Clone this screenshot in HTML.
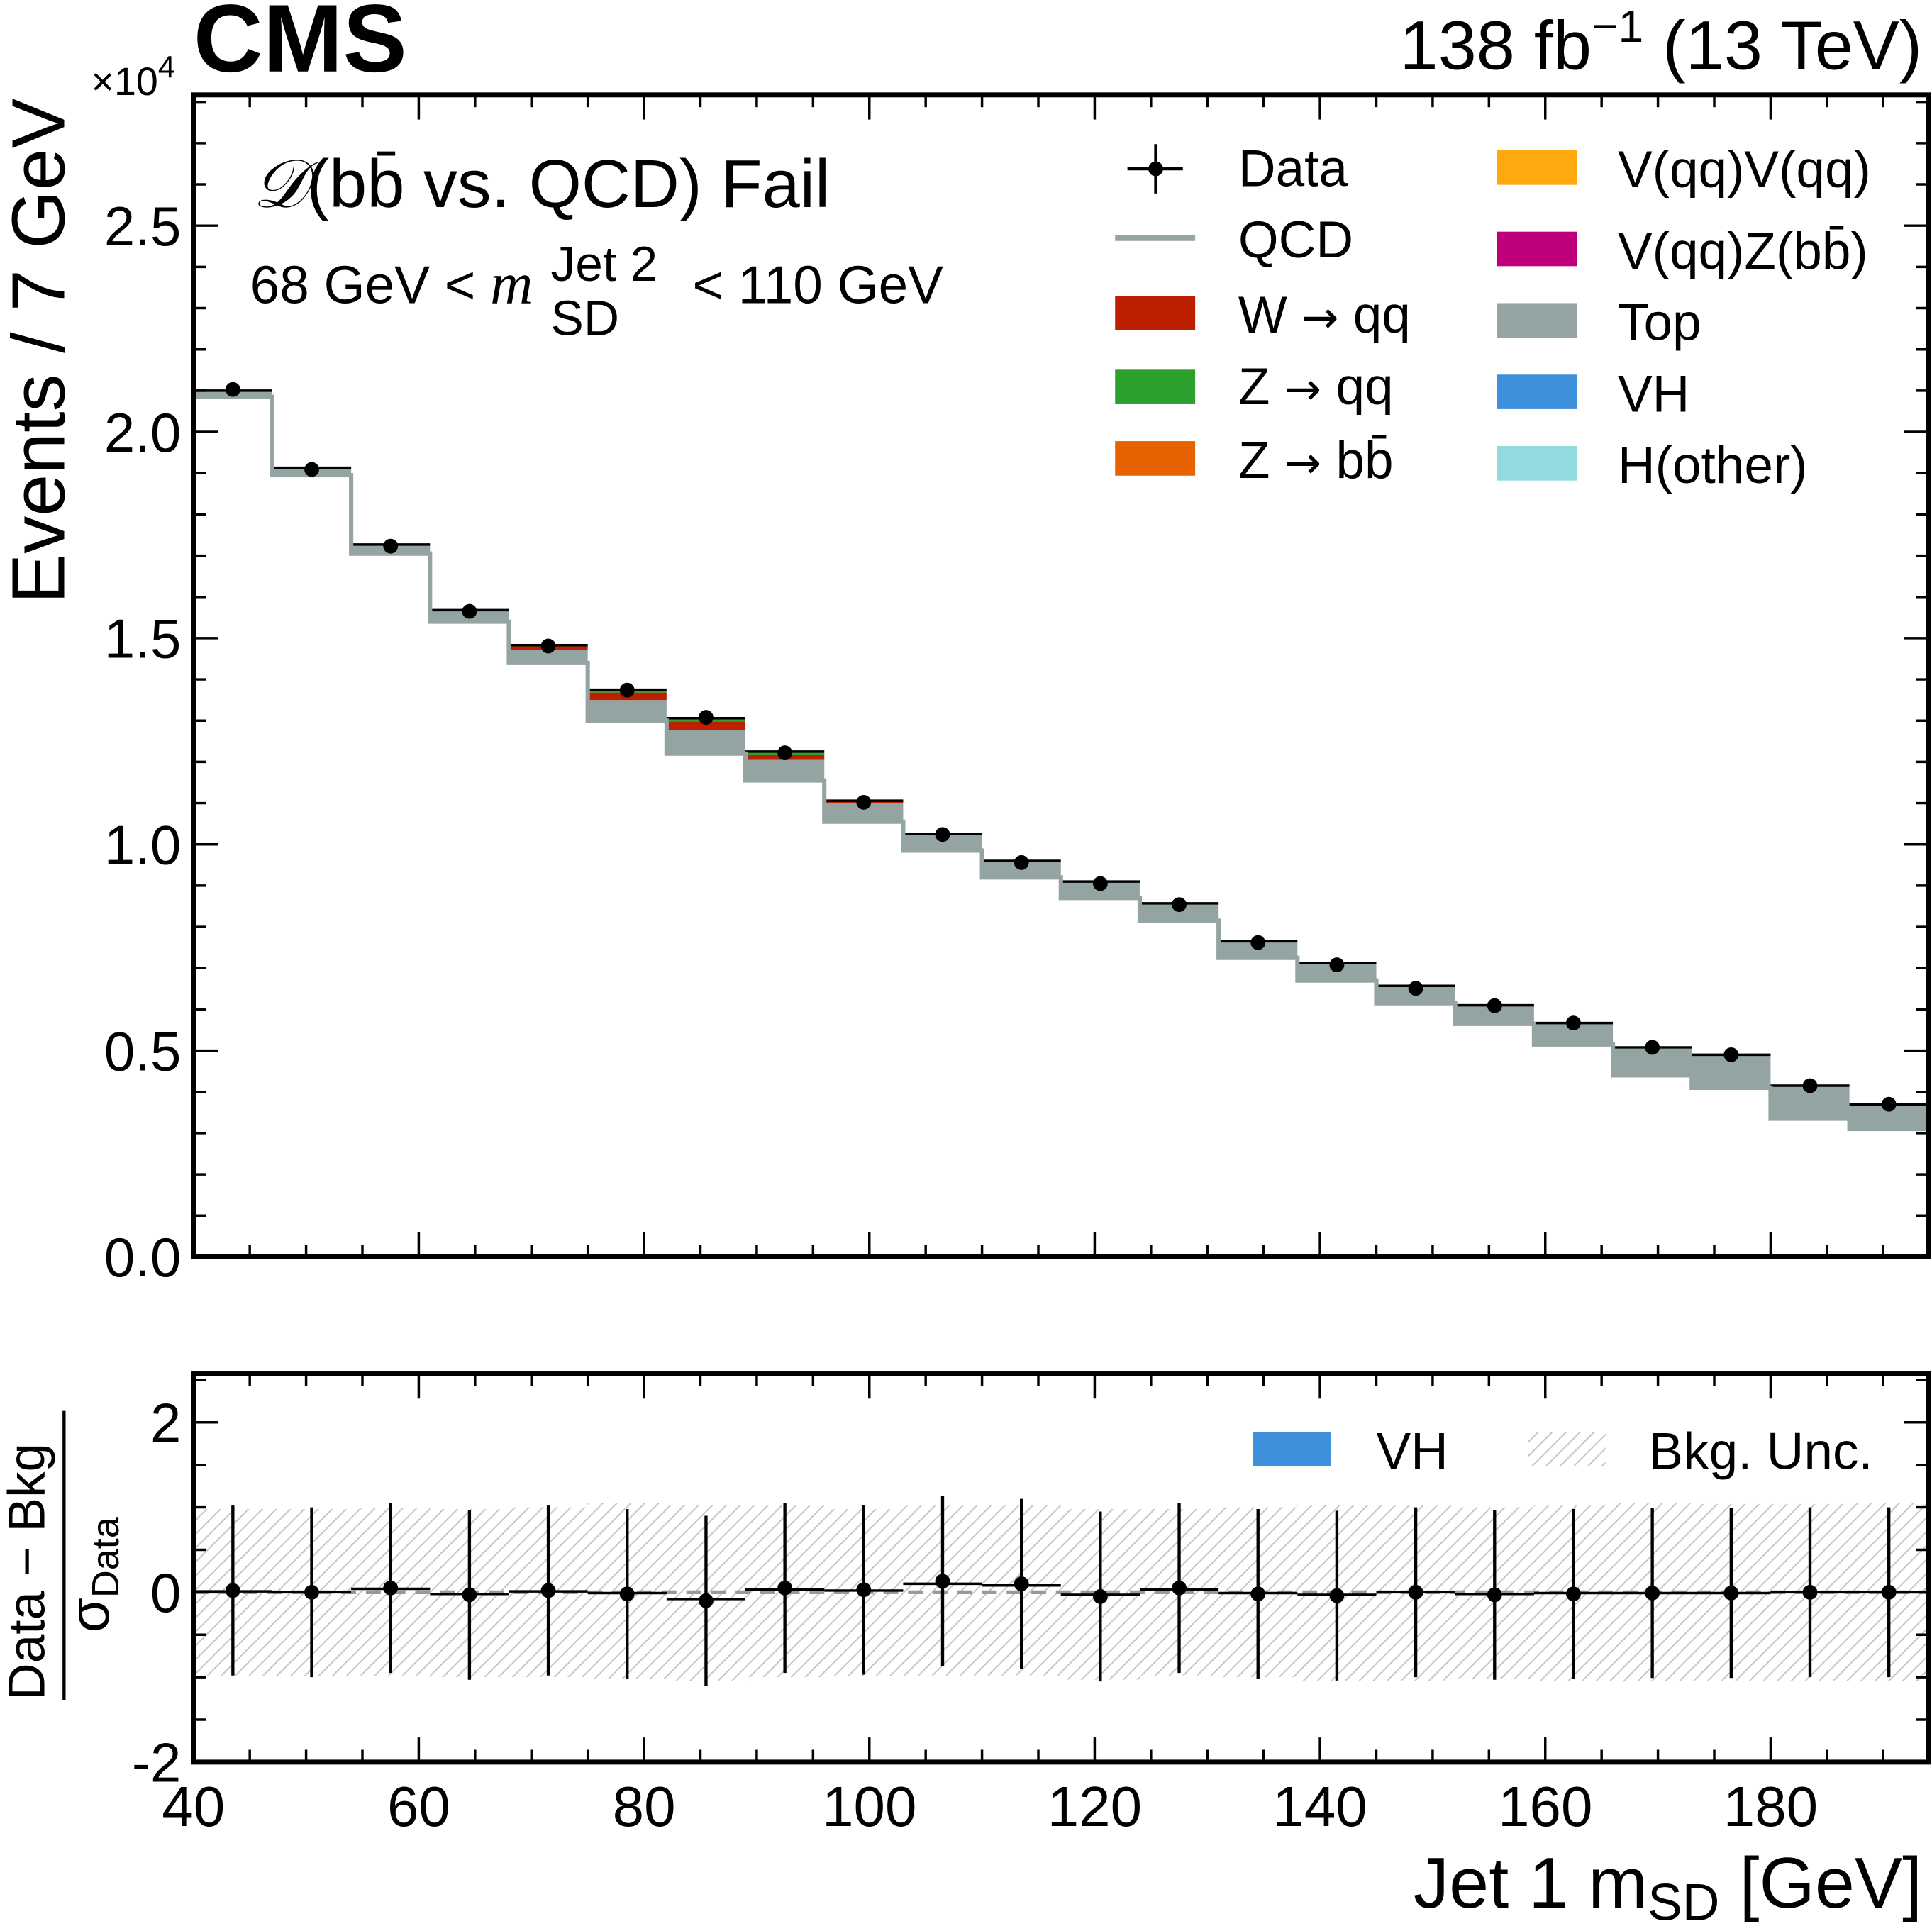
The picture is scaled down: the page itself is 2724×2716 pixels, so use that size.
<!DOCTYPE html>
<html><head><meta charset="utf-8"><style>
html,body{margin:0;padding:0;background:#fff}
svg{display:block}
text{font-family:"Liberation Sans",sans-serif;fill:#000}
</style></head><body>
<svg id="chart" width="2724" height="2716" viewBox="0 0 1568 1563" preserveAspectRatio="none" xmlns="http://www.w3.org/2000/svg">
<defs>
<pattern id="hatch" patternUnits="userSpaceOnUse" width="8" height="8" patternTransform="rotate(45)">
<rect width="8" height="8" fill="#fff"/><line x1="0" y1="0" x2="0" y2="8" stroke="#c4c4c4" stroke-width="2.2"/>
</pattern>
</defs>
<g id="main"></g>
<g id="ratio"></g>
<text x="157" y="58" font-size="78" font-weight="bold">CMS</text>
<text x="1560" y="56" font-size="56" text-anchor="end">138 fb<tspan dy="-22" font-size="37">−1</tspan><tspan dy="22"> (13 TeV)</tspan></text>
<text x="74" y="77" font-size="32">×10<tspan dy="-14" font-size="25">4</tspan></text>
<text transform="translate(52,490) rotate(-90)" font-size="61">Events / 7 GeV</text>
<text x="205" y="168" font-size="55"><tspan font-family="Liberation Serif" font-style="italic">𝒟</tspan>(bb̄ vs. QCD) Fail</text>
<g font-size="43">
<text x="203" y="246">68 GeV &lt; <tspan font-family="Liberation Serif" font-style="italic" font-size="48">m</tspan></text>
<text x="447" y="228" font-size="40">Jet 2</text>
<text x="447" y="272" font-size="40">SD</text>
<text x="562" y="246">&lt; 110 GeV</text>
</g>
<g font-size="42">
<g><line x1="915" y1="137" x2="960" y2="137" stroke="#000" stroke-width="2.5"/><line x1="938" y1="117" x2="938" y2="157" stroke="#000" stroke-width="2.5"/><circle cx="938" cy="137" r="6"/><text x="1005" y="151">Data</text></g>
<g><line x1="905" y1="193" x2="970" y2="193" stroke="#94a4a2" stroke-width="5"/><text x="1005" y="209">QCD</text></g>
<g><rect x="905" y="240" width="65" height="28" fill="#bd1f01"/><text x="1005" y="270">W <tspan font-family="DejaVu Sans" font-size="36">→</tspan> qq</text></g>
<g><rect x="905" y="300" width="65" height="28" fill="#2ca02c"/><text x="1005" y="328">Z <tspan font-family="DejaVu Sans" font-size="36">→</tspan> qq</text></g>
<g><rect x="905" y="358" width="65" height="28" fill="#e76300"/><text x="1005" y="388">Z <tspan font-family="DejaVu Sans" font-size="36">→</tspan> bb̄</text></g>
<g><rect x="1215" y="122" width="65" height="28" fill="#ffa90e"/><text x="1313" y="152">V(qq)V(qq)</text></g>
<g><rect x="1215" y="188" width="65" height="28" fill="#c0007a"/><text x="1313" y="218">V(qq)Z(bb̄)</text></g>
<g><rect x="1215" y="246" width="65" height="28" fill="#94a4a2"/><text x="1313" y="276">Top</text></g>
<g><rect x="1215" y="304" width="65" height="28" fill="#3f90da"/><text x="1313" y="334">VH</text></g>
<g><rect x="1215" y="362" width="65" height="28" fill="#92dadd"/><text x="1313" y="392">H(other)</text></g>
</g>
<g font-size="42">
<g><rect x="1017" y="1162" width="63" height="28" fill="#3f90da"/><text x="1117" y="1192">VH</text></g>
<g><rect x="1240" y="1162" width="63" height="28" fill="url(#hatch)"/><text x="1338" y="1192">Bkg. Unc.</text></g>
</g>
<g>
<text transform="translate(36,1380) rotate(-90)" font-size="42">Data − Bkg</text>
<line x1="52" y1="1145" x2="52" y2="1380" stroke="#000" stroke-width="2.5"/>
<text transform="translate(88,1325) rotate(-90)" font-size="46">σ<tspan font-size="31" dy="8">Data</tspan></text>
</g>
<text x="1560" y="1548" font-size="58" text-anchor="end">Jet 1 m<tspan font-size="42" dy="10">SD</tspan><tspan dy="-10"> [GeV]</tspan></text>
</svg>
<script>
const binEdges = [40,47,54,61,68,75,82,89,96,103,110,117,124,131,138,145,152,159,166,173,180,187,194];
const dataVals = [2.103,1.909,1.723,1.565,1.481,1.374,1.308,1.222,1.102,1.024,0.956,0.905,0.854,0.762,0.708,0.651,0.609,0.567,0.508,0.490,0.415,0.370];
const qcdVals  = [2.085,1.895,1.705,1.540,1.440,1.300,1.220,1.155,1.055,0.985,0.920,0.870,0.815,0.725,0.670,0.615,0.565,0.515,0.440,0.410,0.335,0.310];
const topVals  = [0.015,0.018,0.022,0.028,0.032,0.050,0.058,0.050,0.045,0.040,0.040,0.040,0.042,0.040,0.042,0.042,0.045,0.052,0.068,0.080,0.080,0.060];
const wqqVals  = [0,0,0,0,0.008,0.018,0.020,0.012,0.004,0,0,0,0,0,0,0,0,0,0,0,0,0];
const zqqVals  = [0,0,0,0,0.002,0.005,0.005,0.006,0.002,0,0,0,0,0,0,0,0,0,0,0,0,0];
const zbbVals  = [0,0,0,0,0.001,0.002,0.003,0.002,0,0,0,0,0,0,0,0,0,0,0,0,0,0];
const pullVals = [0.02,0.0,0.05,-0.03,0.02,-0.02,-0.1,0.05,0.03,0.13,0.1,-0.05,0.05,-0.02,-0.04,0.0,-0.03,-0.02,-0.01,-0.01,0.0,0.0];
const fitVals  = [0.01,0.0,0.04,-0.02,0.01,-0.01,-0.08,0.03,0.02,0.1,0.08,-0.03,0.03,-0.01,-0.03,0.0,-0.02,-0.01,-0.01,-0.01,0.0,0.0];
const uncUp    = [0.98,0.98,0.99,0.98,1.0,1.05,1.03,1.02,0.98,1.02,1.03,0.98,0.98,1.0,1.03,1.02,1.0,1.02,1.05,1.04,1.04,1.05];
const uncDn    = [-0.98,-0.99,-0.98,-1.0,-1.0,-1.02,-1.04,-1.0,-0.99,-0.98,-0.98,-1.03,-0.98,-1.0,-1.04,-1.04,-1.02,-1.04,-1.05,-1.04,-1.04,-1.05];
const xTicks = [40,60,80,100,120,140,160,180];
const yTicks = [0,0.5,1.0,1.5,2.0,2.5];
const rTicks = [-2,0,2];

const NS='http://www.w3.org/2000/svg';
const L=157,R=1565,T=77,B=1020,RT=1115,RB=1430;
const X0=40,X1=194,YMAX=2.817,RMIN=-2,RMAX=2.57;
const sx=v=>L+(v-X0)/(X1-X0)*(R-L);
const sy=v=>B-v/YMAX*(B-T);
const ry=v=>RB-(v-RMIN)/(RMAX-RMIN)*(RB-RT);
function mk(tag,attrs,parent){const e=document.createElementNS(NS,tag);for(const k in attrs)e.setAttribute(k,attrs[k]);parent.appendChild(e);return e;}
const main=document.getElementById('main'), ratio=document.getElementById('ratio');

const comps=[[topVals,'#94a4a2','top'],[wqqVals,'#bd1f01','wqq'],[zqqVals,'#2ca02c','zqq'],[zbbVals,'#e76300','zbb']];
let qcdPath='';
for(let i=0;i<dataVals.length;i++){
  const x0=sx(binEdges[i]),x1=sx(binEdges[i+1]);
  let base=qcdVals[i];
  for(const [arr,col,nm] of comps){
    if(arr[i]>0){
      const r=mk('rect',{x:x0,y:sy(base+arr[i]),width:x1-x0,height:sy(base)-sy(base+arr[i]),fill:col},main);
      
      
    }
    base+=arr[i];
  }
  qcdPath+=(i===0?'M':'L')+x0+','+sy(qcdVals[i])+'L'+x1+','+sy(qcdVals[i]);
  const tl=mk('line',{x1:x0,x2:x1,y1:sy(base),y2:sy(base),stroke:'#000','stroke-width':2},main);
  
  
}
const qp=mk('path',{d:qcdPath,fill:'none',stroke:'#94a4a2','stroke-width':3.5},main);


for(let i=0;i<dataVals.length;i++){
  const c=(binEdges[i]+binEdges[i+1])/2;
  const p=mk('circle',{cx:sx(c),cy:sy(dataVals[i]),r:6,fill:'#000'},main);
  
  
}

for(let i=0;i<dataVals.length;i++){
  const x0=sx(binEdges[i]),x1=sx(binEdges[i+1]);
  const b=mk('rect',{x:x0,y:ry(uncUp[i]),width:x1-x0,height:ry(uncDn[i])-ry(uncUp[i]),fill:'url(#hatch)'},ratio);
  
  
}
const z=mk('line',{x1:L,x2:R,y1:ry(0),y2:ry(0),stroke:'#999','stroke-width':3,'stroke-dasharray':'12,8'},ratio);


for(let i=0;i<dataVals.length;i++){
  const x0=sx(binEdges[i]),x1=sx(binEdges[i+1]),c=sx((binEdges[i]+binEdges[i+1])/2);
  const f=mk('line',{x1:x0,x2:x1,y1:ry(fitVals[i]),y2:ry(fitVals[i]),stroke:'#000','stroke-width':2},ratio);
  
  
  const e=mk('line',{x1:c,x2:c,y1:ry(pullVals[i]+1),y2:ry(pullVals[i]-1),stroke:'#000','stroke-width':2.5},ratio);
  
  
  const p=mk('circle',{cx:c,cy:ry(pullVals[i]),r:6,fill:'#000'},ratio);
  
  
}

function frame(parent,top,bot,name){
  const r=mk('rect',{x:L,y:top,width:R-L,height:bot-top,fill:'none',stroke:'#000','stroke-width':4},parent);
  
  
  for(let v=X0;v<=X1;v+=5){
    const big=v%20===0, len=big?20:10, x=sx(v);
    mk('line',{x1:x,x2:x,y1:bot,y2:bot-len,stroke:'#000','stroke-width':2},parent);
    mk('line',{x1:x,x2:x,y1:top,y2:top+len,stroke:'#000','stroke-width':2},parent);
  }
}
frame(main,T,B,'main-plot-frame');
frame(ratio,RT,RB,'ratio-plot-frame');
for(let k=0;k<=28;k++){
  const v=k/10, y=sy(v), big=k%5===0, len=big?20:10;
  mk('line',{x1:L,x2:L+len,y1:y,y2:y,stroke:'#000','stroke-width':2},main);
  mk('line',{x1:R,x2:R-len,y1:y,y2:y,stroke:'#000','stroke-width':2},main);
}
for(const v of yTicks){
  const t=mk('text',{x:L-10,y:sy(v)+16,'font-size':45,'text-anchor':'end'},main);
  t.textContent=v.toFixed(1);
  
  
}
for(let v=-2;v<=2.5;v+=0.5){
  const y=ry(v), big=Number.isInteger(v/2), len=big?20:10;
  mk('line',{x1:L,x2:L+len,y1:y,y2:y,stroke:'#000','stroke-width':2},ratio);
  mk('line',{x1:R,x2:R-len,y1:y,y2:y,stroke:'#000','stroke-width':2},ratio);
}
for(const v of rTicks){
  const t=mk('text',{x:L-10,y:ry(v)+16,'font-size':45,'text-anchor':'end'},ratio);
  t.textContent=v<0?'-'+Math.abs(v):String(v);
  
  
}
for(const v of xTicks){
  const t=mk('text',{x:sx(v),y:RB+52,'font-size':46,'text-anchor':'middle'},ratio);
  t.textContent=String(v);
  
  
}
</script>
</body></html>
